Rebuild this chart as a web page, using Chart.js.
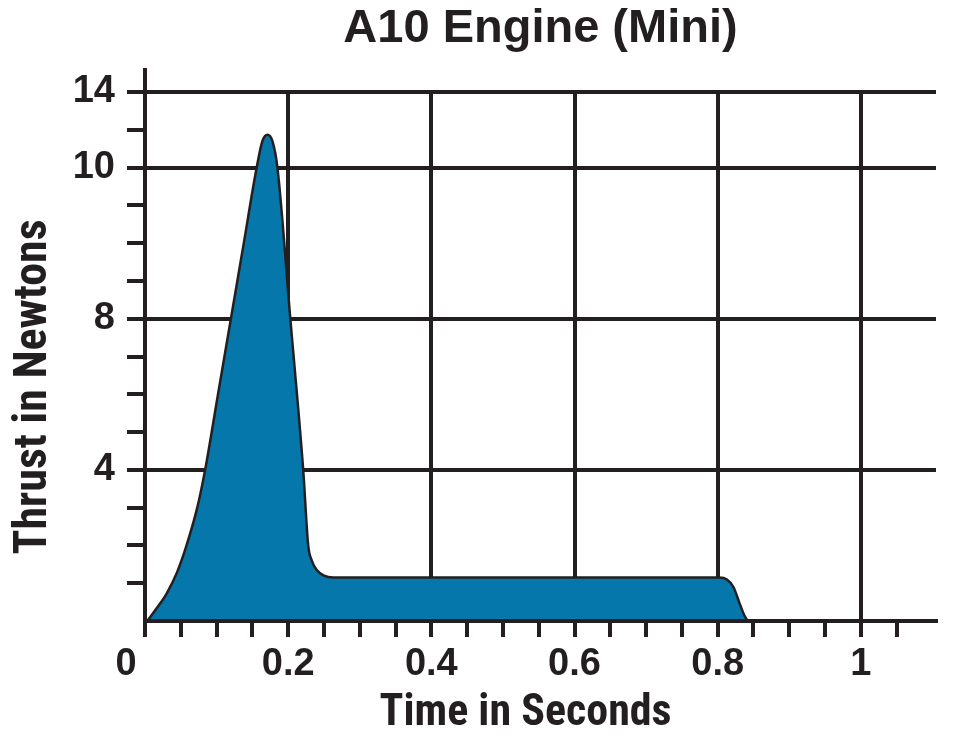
<!DOCTYPE html>
<html>
<head>
<meta charset="utf-8">
<script src="https://cdn.jsdelivr.net/npm/chart.js@4"></script>
<style>
  html, body { margin: 0; padding: 0; background: #ffffff; }
  #wrap { width: 956px; height: 743px; position: relative; }
</style>
</head>
<body>
<div id="wrap"><canvas id="c"></canvas></div>
<script>
// ---- data (time in seconds, thrust in the chart's plotted axis units) ----
const timeSeconds = [0.003, 0.016, 0.030, 0.045, 0.058, 0.073, 0.084, 0.102, 0.120, 0.138, 0.156, 0.164, 0.171, 0.178, 0.185, 0.203, 0.221, 0.228, 0.233, 0.240, 0.250, 0.263, 0.400, 0.600, 0.802, 0.813, 0.822, 0.830, 0.837, 0.842];
const thrustPlotted = [0, 0.33, 0.72, 1.3, 2.0, 3.0, 4.0, 6.0, 8.0, 10.0, 12.0, 12.7, 12.87, 12.7, 12.0, 8.0, 4.0, 2.0, 1.6, 1.35, 1.2, 1.15, 1.15, 1.15, 1.15, 1.10, 0.9, 0.5, 0.16, 0];

// ---- axis ticks ----
const xTickValues = [0, 0.05, 0.1, 0.15, 0.2, 0.25, 0.3, 0.35, 0.4, 0.45, 0.5, 0.55, 0.6, 0.65, 0.7, 0.75, 0.8, 0.85, 0.9, 0.95, 1.0, 1.05];
const xLabelValues = [0, 0.2, 0.4, 0.6, 0.8, 1.0];
const xLabelTexts = ['0\u2002\u2002', '0.2', '0.4', '0.6', '0.8', '1'];
const yTickValues = [1, 2, 3, 4, 5, 6, 7, 8, 9, 10, 11, 12, 13, 14];
const yLabelValues = [4, 8, 12, 14];
const yLabelTexts = ['4', '8', '10', '14'];

const titleText = 'A10 Engine (Mini)';
const xTitleText = 'Time in Seconds\u2002 ';
const yTitleText = 'Thrust in Newtons\u2003\u2002';

const INK = '#231f20';
const FILL = '#0577aa';
const NARROW = '"Roboto Condensed", "Liberation Sans", sans-serif';

const findIdx = (arr, v) => arr.findIndex(a => Math.abs(a - v) < 1e-6);

const axisExtension = {
  id: 'axisExtension',
  afterDraw(chart) {
    const ctx = chart.ctx;
    const y = chart.scales.y;
    const x = y.right;
    ctx.save();
    ctx.strokeStyle = INK;
    ctx.lineWidth = 4;
    ctx.beginPath();
    ctx.moveTo(x, chart.chartArea.top + 1);
    ctx.lineTo(x, chart.chartArea.top - 24);
    ctx.stroke();
    ctx.restore();
  }
};

const points = timeSeconds.map((t, i) => ({ x: t, y: thrustPlotted[i] }));

new Chart(document.getElementById('c'), {
  type: 'line',
  data: {
    datasets: [{
      data: points,
      fill: 'origin',
      backgroundColor: FILL,
      borderColor: INK,
      borderWidth: 2.5,
      pointRadius: 0,
      cubicInterpolationMode: 'monotone'
    }]
  },
  plugins: [axisExtension],
  options: {
    responsive: true,
    maintainAspectRatio: false,
    animation: false,
    layout: { padding: { left: 0, right: 20, top: 0, bottom: 0 } },
    plugins: {
      legend: { display: false },
      tooltip: { enabled: false },
      title: {
        display: true,
        text: titleText,
        fullSize: false,
        color: INK,
        font: { family: '"Liberation Sans", Arial, sans-serif', size: 47, weight: 'bold', lineHeight: 1.2 },
        padding: { top: 1, bottom: 34.6 }
      }
    },
    scales: {
      x: {
        type: 'linear',
        min: 0,
        max: 1.105,
        afterBuildTicks: (s) => { s.ticks = xTickValues.map(v => ({ value: v })); },
        afterFit: (s) => { s.height = 122; },
        border: { display: true, color: INK, width: 4, z: 1 },
        grid: {
          lineWidth: 4,
          color: (c) => (c.tick && findIdx(xLabelValues, c.tick.value) > 0) ? INK : 'rgba(0,0,0,0)',
          tickColor: INK,
          tickWidth: 4,
          tickLength: 16,
          drawTicks: true
        },
        ticks: {
          autoSkip: false,
          maxRotation: 0,
          padding: 5,
          color: INK,
          font: { family: '"Liberation Sans", Arial, sans-serif', size: 38, weight: 'bold', lineHeight: 1.2 },
          callback: (v) => { const i = findIdx(xLabelValues, v); return i >= 0 ? xLabelTexts[i] : ''; }
        },
        title: {
          display: true,
          text: xTitleText,
          color: INK,
          font: { family: NARROW, size: 44, weight: 'bold', lineHeight: 1.2 },
          padding: { top: 0, bottom: 3 }
        }
      },
      y: {
        type: 'linear',
        min: 0,
        max: 14,
        afterBuildTicks: (s) => { s.ticks = yTickValues.map(v => ({ value: v })); },
        afterFit: (s) => { s.width = 145; },
        border: { display: true, color: INK, width: 4, z: 1 },
        grid: {
          lineWidth: 4,
          color: (c) => (c.tick && findIdx(yLabelValues, c.tick.value) >= 0) ? INK : 'rgba(0,0,0,0)',
          tickColor: INK,
          tickWidth: 4,
          tickLength: 18,
          drawTicks: true
        },
        ticks: {
          autoSkip: false,
          padding: 12,
          color: INK,
          font: { family: '"Liberation Sans", Arial, sans-serif', size: 38, weight: 'bold', lineHeight: 1.2 },
          callback: (v) => { const i = findIdx(yLabelValues, v); return i >= 0 ? yLabelTexts[i] : ''; }
        },
        title: {
          display: true,
          text: yTitleText,
          color: INK,
          font: { family: NARROW, size: 46, weight: 'bold', lineHeight: 1.2 },
          padding: { top: 7, bottom: 0 }
        }
      }
    }
  }
});
</script>
</body>
</html>
